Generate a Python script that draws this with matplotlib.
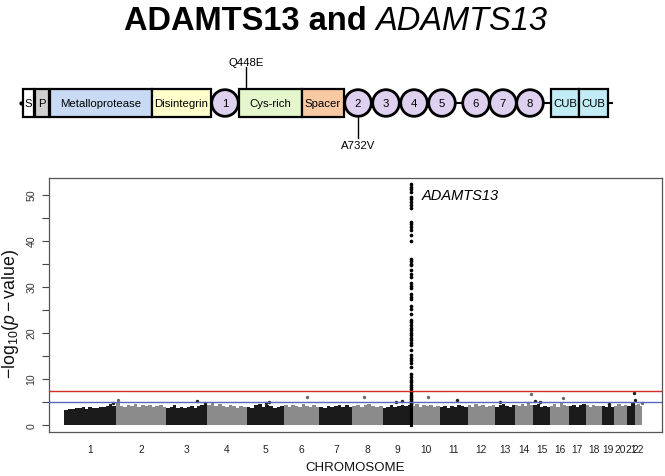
import matplotlib
matplotlib.use("Agg")
import matplotlib.pyplot as plt
from matplotlib.patches import Rectangle, Circle
import numpy as np

plt.rcParams['font.family'] = ['Liberation Sans', 'DejaVu Sans']
plt.rcParams['mathtext.fontset'] = 'custom'
plt.rcParams['mathtext.rm'] = 'Liberation Sans'
plt.rcParams['mathtext.it'] = 'Liberation Sans:italic'

# ---------------- data ----------------
title_bold = "ADAMTS13 and "
title_italic = "ADAMTS13"
gene_label = "ADAMTS13"

domain_labels = ["S", "P", "Metalloprotease", "Disintegrin", "1", "Cys-rich", "Spacer",
                 "2", "3", "4", "5", "6", "7", "8", "CUB", "CUB"]
variant_up = "Q448E"
variant_down = "A732V"

chrom_labels = [str(i) for i in range(1, 23)]
chrom_start_mb = [0.75, 0.01, 0.06, 0.07, 0.01, 0.2, 0.04, 0.16, 0.2, 0.1, 0.2, 0.1,
                  19.0, 20.0, 20.0, 0.06, 0.01, 0.01, 0.26, 0.06, 9.4, 16.0]
chrom_end_mb = [249.2, 243.2, 198.0, 191.1, 180.9, 171.1, 159.1, 146.3, 141.2, 135.5,
                135.0, 133.9, 115.2, 107.3, 102.5, 90.3, 81.2, 78.1, 59.1, 63.0, 48.1, 51.3]

# upper envelope of the dense background -log10(p) per chromosome
envelope = [
    [3.2, 3.5, 3.4, 3.7, 3.6, 3.9, 3.5, 3.8, 3.7, 3.6, 3.9, 3.8, 4.1, 4.4, 4.0],
    [4.6, 4.1, 3.9, 4.3, 4.0, 4.4, 3.8, 4.2, 4.0, 4.3, 3.9, 4.1, 4.2, 3.8],
    [3.6, 3.8, 4.2, 3.7, 3.9, 3.6, 3.8, 4.0, 3.7, 4.1, 4.3, 4.5],
    [4.3, 4.6, 4.0, 4.4, 4.1, 3.8, 4.2, 4.0, 3.7, 4.1, 3.9],
    [3.8, 3.6, 4.2, 4.4, 3.9, 4.3, 4.1, 3.7, 3.9, 4.0],
    [4.2, 3.9, 4.3, 4.0, 3.8, 4.4, 4.1, 3.9, 4.2, 3.8],
    [3.9, 3.7, 4.1, 3.8, 4.0, 4.3, 3.9, 4.2, 3.8],
    [4.0, 4.3, 3.9, 4.2, 4.4, 4.0, 3.8, 4.1],
    [3.6, 3.9, 4.2, 3.8, 4.1, 4.3, 4.0, 4.2],
    [4.1, 4.4, 3.9, 4.2, 4.0, 4.3, 3.8, 4.1],
    [3.8, 4.0, 3.7, 4.1, 3.9, 4.2, 4.0, 3.8],
    [4.2, 3.9, 4.4, 4.0, 4.3, 3.8, 4.1, 4.2],
    [3.9, 4.2, 4.5, 4.1, 3.8, 4.3],
    [4.3, 4.0, 4.4, 4.1, 4.6, 4.2],
    [4.2, 4.4, 3.9, 4.1, 3.8],
    [4.1, 4.4, 3.9, 4.6, 4.2, 4.0],
    [4.0, 4.3, 3.9, 4.2, 4.4],
    [4.2, 3.9, 4.3, 4.0, 4.1],
    [4.0, 3.8, 4.2, 3.9],
    [4.1, 4.4, 4.0, 4.3],
    [4.0, 4.6],
    [4.3, 4.5, 4.1],
]

# isolated SNPs above the background
hit_chrom = [1, 2, 3, 3, 5, 5, 6, 8, 9, 9, 10, 11, 13, 14, 15, 15, 16, 19, 21, 21, 22]
hit_pos_mb = [235, 12, 150, 190, 95, 110, 112, 57, 65, 95, 80, 85, 40, 95, 30, 55, 60, 35, 45, 46, 50]
hit_logp = [4.7, 5.4, 5.2, 4.8, 4.7, 5.0, 6.1, 6.0, 4.9, 5.2, 6.0, 5.4, 5.0, 6.6, 5.1, 5.0, 5.8, 4.4, 6.9, 5.4, 4.8]

# ADAMTS13 locus on chromosome 9
spike_chrom = 9
spike_pos_mb = 136.3
spike_logp = [52.2, 51.7, 51.2, 50.6, 49.5, 49.0, 48.4, 47.8, 47.1, 44.1, 43.5, 43.0, 42.2,
              41.2, 39.9, 36.1, 35.5, 35.0, 34.6, 33.5, 32.8, 32.1, 30.7, 30.1, 29.6, 28.3,
              27.8, 27.2, 25.8, 25.2, 24.1, 22.7, 22.2, 21.6, 21.0, 20.5, 20.0, 19.4, 18.8,
              18.3, 17.8, 17.2, 16.2, 15.1, 14.5, 14.0, 13.3, 12.5, 10.9, 10.4, 9.8, 9.3,
              8.7, 8.2, 7.7, 7.1, 6.5, 6.0, 5.6, 5.2, 4.8, 4.5]

genome_wide = 7.3
suggestive = 5.0

# ---------------- figure ----------------
W, H = 665, 477
fig = plt.figure(figsize=(W / 100, H / 100), dpi=100)

# --- overlay axes in pixel coordinates for the protein diagram ---
ax0 = fig.add_axes([0, 0, 1, 1])
ax0.set_xlim(0, W)
ax0.set_ylim(H, 0)
ax0.axis('off')

yc = 104
bh = 28
ax0.plot([21, 612], [yc, yc], color='black', lw=1.5, zorder=1)
ax0.plot([21], [yc], 'o', color='black', ms=2, zorder=1)

box_specs = {  # label index -> (x0, x1, colour)
    0: (23, 34, '#ffffff'),
    1: (35, 49, '#cfcfcf'),
    2: (50, 152, '#c8daf4'),
    3: (152, 211, '#ffffcc'),
    5: (239, 302, '#e4f6cb'),
    6: (302, 344, '#f8c9a2'),
    14: (551, 579, '#c2edf7'),
    15: (579, 608, '#c2edf7'),
}
circle_x = {4: 225, 7: 358, 8: 386, 9: 414, 10: 442, 11: 476, 12: 503, 13: 530}

for i, lab in enumerate(domain_labels):
    if i in box_specs:
        x0, x1, c = box_specs[i]
        ax0.add_patch(Rectangle((x0, yc - bh / 2), x1 - x0, bh, facecolor=c,
                                edgecolor='black', lw=1.6, zorder=2))
        ax0.text((x0 + x1) / 2, yc, lab, ha='center', va='center', fontsize=8.2, zorder=3)
    else:
        cx = circle_x[i]
        ax0.add_patch(Circle((cx, yc), 13.3, facecolor='#ddd1ef', edgecolor='black',
                             lw=2.0, zorder=2))
        ax0.text(cx, yc, lab, ha='center', va='center', fontsize=8.2, zorder=3)

# variants
ax0.plot([246, 246], [68, yc - bh / 2], color='black', lw=1.0, zorder=1)
ax0.text(246, 63, variant_up, ha='center', va='center', fontsize=8.2)
ax0.plot([358, 358], [yc + 13.5, 139], color='black', lw=1.0, zorder=1)
ax0.text(358, 146, variant_down, ha='center', va='center', fontsize=8.2)

# --- title (bold + italic parts) ---
t1 = fig.text(0.5, 1 - 30 / H, title_bold, fontsize=23.5, fontweight='bold',
              ha='left', va='baseline')
t2 = fig.text(0.5, 1 - 30 / H, title_italic, fontsize=23.5, fontstyle='italic',
              ha='left', va='baseline')
fig.canvas.draw()
r = fig.canvas.get_renderer()
w1 = t1.get_window_extent(r).width
w2 = t2.get_window_extent(r).width
xstart = 336 - (w1 + w2) / 2
t1.set_x(xstart / W)
t2.set_x((xstart + w1) / W)

# --- Manhattan plot ---
ax = fig.add_axes([49 / W, 1 - 433 / H, (662 - 49) / W, (433 - 179) / H])

widths = [e - s for s, e in zip(chrom_start_mb, chrom_end_mb)]
offsets = np.concatenate([[0], np.cumsum(widths)[:-1]])
black, grey = '#1b1b1b', '#8b8b8b'

mids = []
for i, env in enumerate(envelope):
    col = black if i % 2 == 0 else grey
    n = len(env)
    w = widths[i] / n
    xs = offsets[i] + w * (np.arange(n) + 0.5)
    ax.bar(xs, env, width=w * 1.01, color=col, linewidth=0, zorder=2)
    mids.append(offsets[i] + widths[i] / 2)

# isolated hits
for c, p, v in zip(hit_chrom, hit_pos_mb, hit_logp):
    i = c - 1
    col = black if i % 2 == 0 else '#6a6a6a'
    x = offsets[i] + (p - chrom_start_mb[i])
    ax.scatter([x], [v], s=6, color=col, linewidths=0, zorder=3)

# chromosome 9 spike
si = spike_chrom - 1
sx = offsets[si] + (spike_pos_mb - chrom_start_mb[si])
ax.scatter(np.full(len(spike_logp), sx), spike_logp, s=7, color='black',
           linewidths=0, zorder=4)
ax.plot([sx, sx], [0, 7.0], color='black', lw=2.2, zorder=4)
ax.annotate(gene_label, xy=(sx, 50.0), xytext=(11, 0), textcoords='offset pixels',
            fontsize=10.5, fontstyle='italic', ha='left', va='center')

ax.axhline(genome_wide, color='#d42a2a', lw=1.0, zorder=5)
ax.axhline(suggestive, color='#5a68b8', lw=1.0, zorder=5)

ax.set_xlim(-75, offsets[-1] + widths[-1] + 95)
ax.set_ylim(-1.6, 53.6)

ax.set_xticks(mids)
ax.set_xticklabels(chrom_labels, fontsize=7.4, color='#222222')
ax.tick_params(axis='x', length=0, pad=9)

yt = np.arange(0, 51, 5)
ax.set_yticks(yt)
ax.set_yticklabels([str(v) if v % 10 == 0 else '' for v in yt], rotation=90,
                   va='center', fontsize=7.6, color='#333333')
ax.tick_params(axis='y', length=5, width=0.8, color='#444444', pad=4)

for s in ax.spines.values():
    s.set_color('#555555')
    s.set_linewidth(0.9)

ax.set_xlabel('CHROMOSOME', fontsize=9.5, labelpad=5, color='#111111')
ax.set_ylabel(r'$-\mathrm{log}_{10}(p-\mathrm{value})$', fontsize=12.8, color='#111111')
ax.yaxis.set_label_coords(-0.045, 0.47)

fig.savefig('out.png', dpi=100)
